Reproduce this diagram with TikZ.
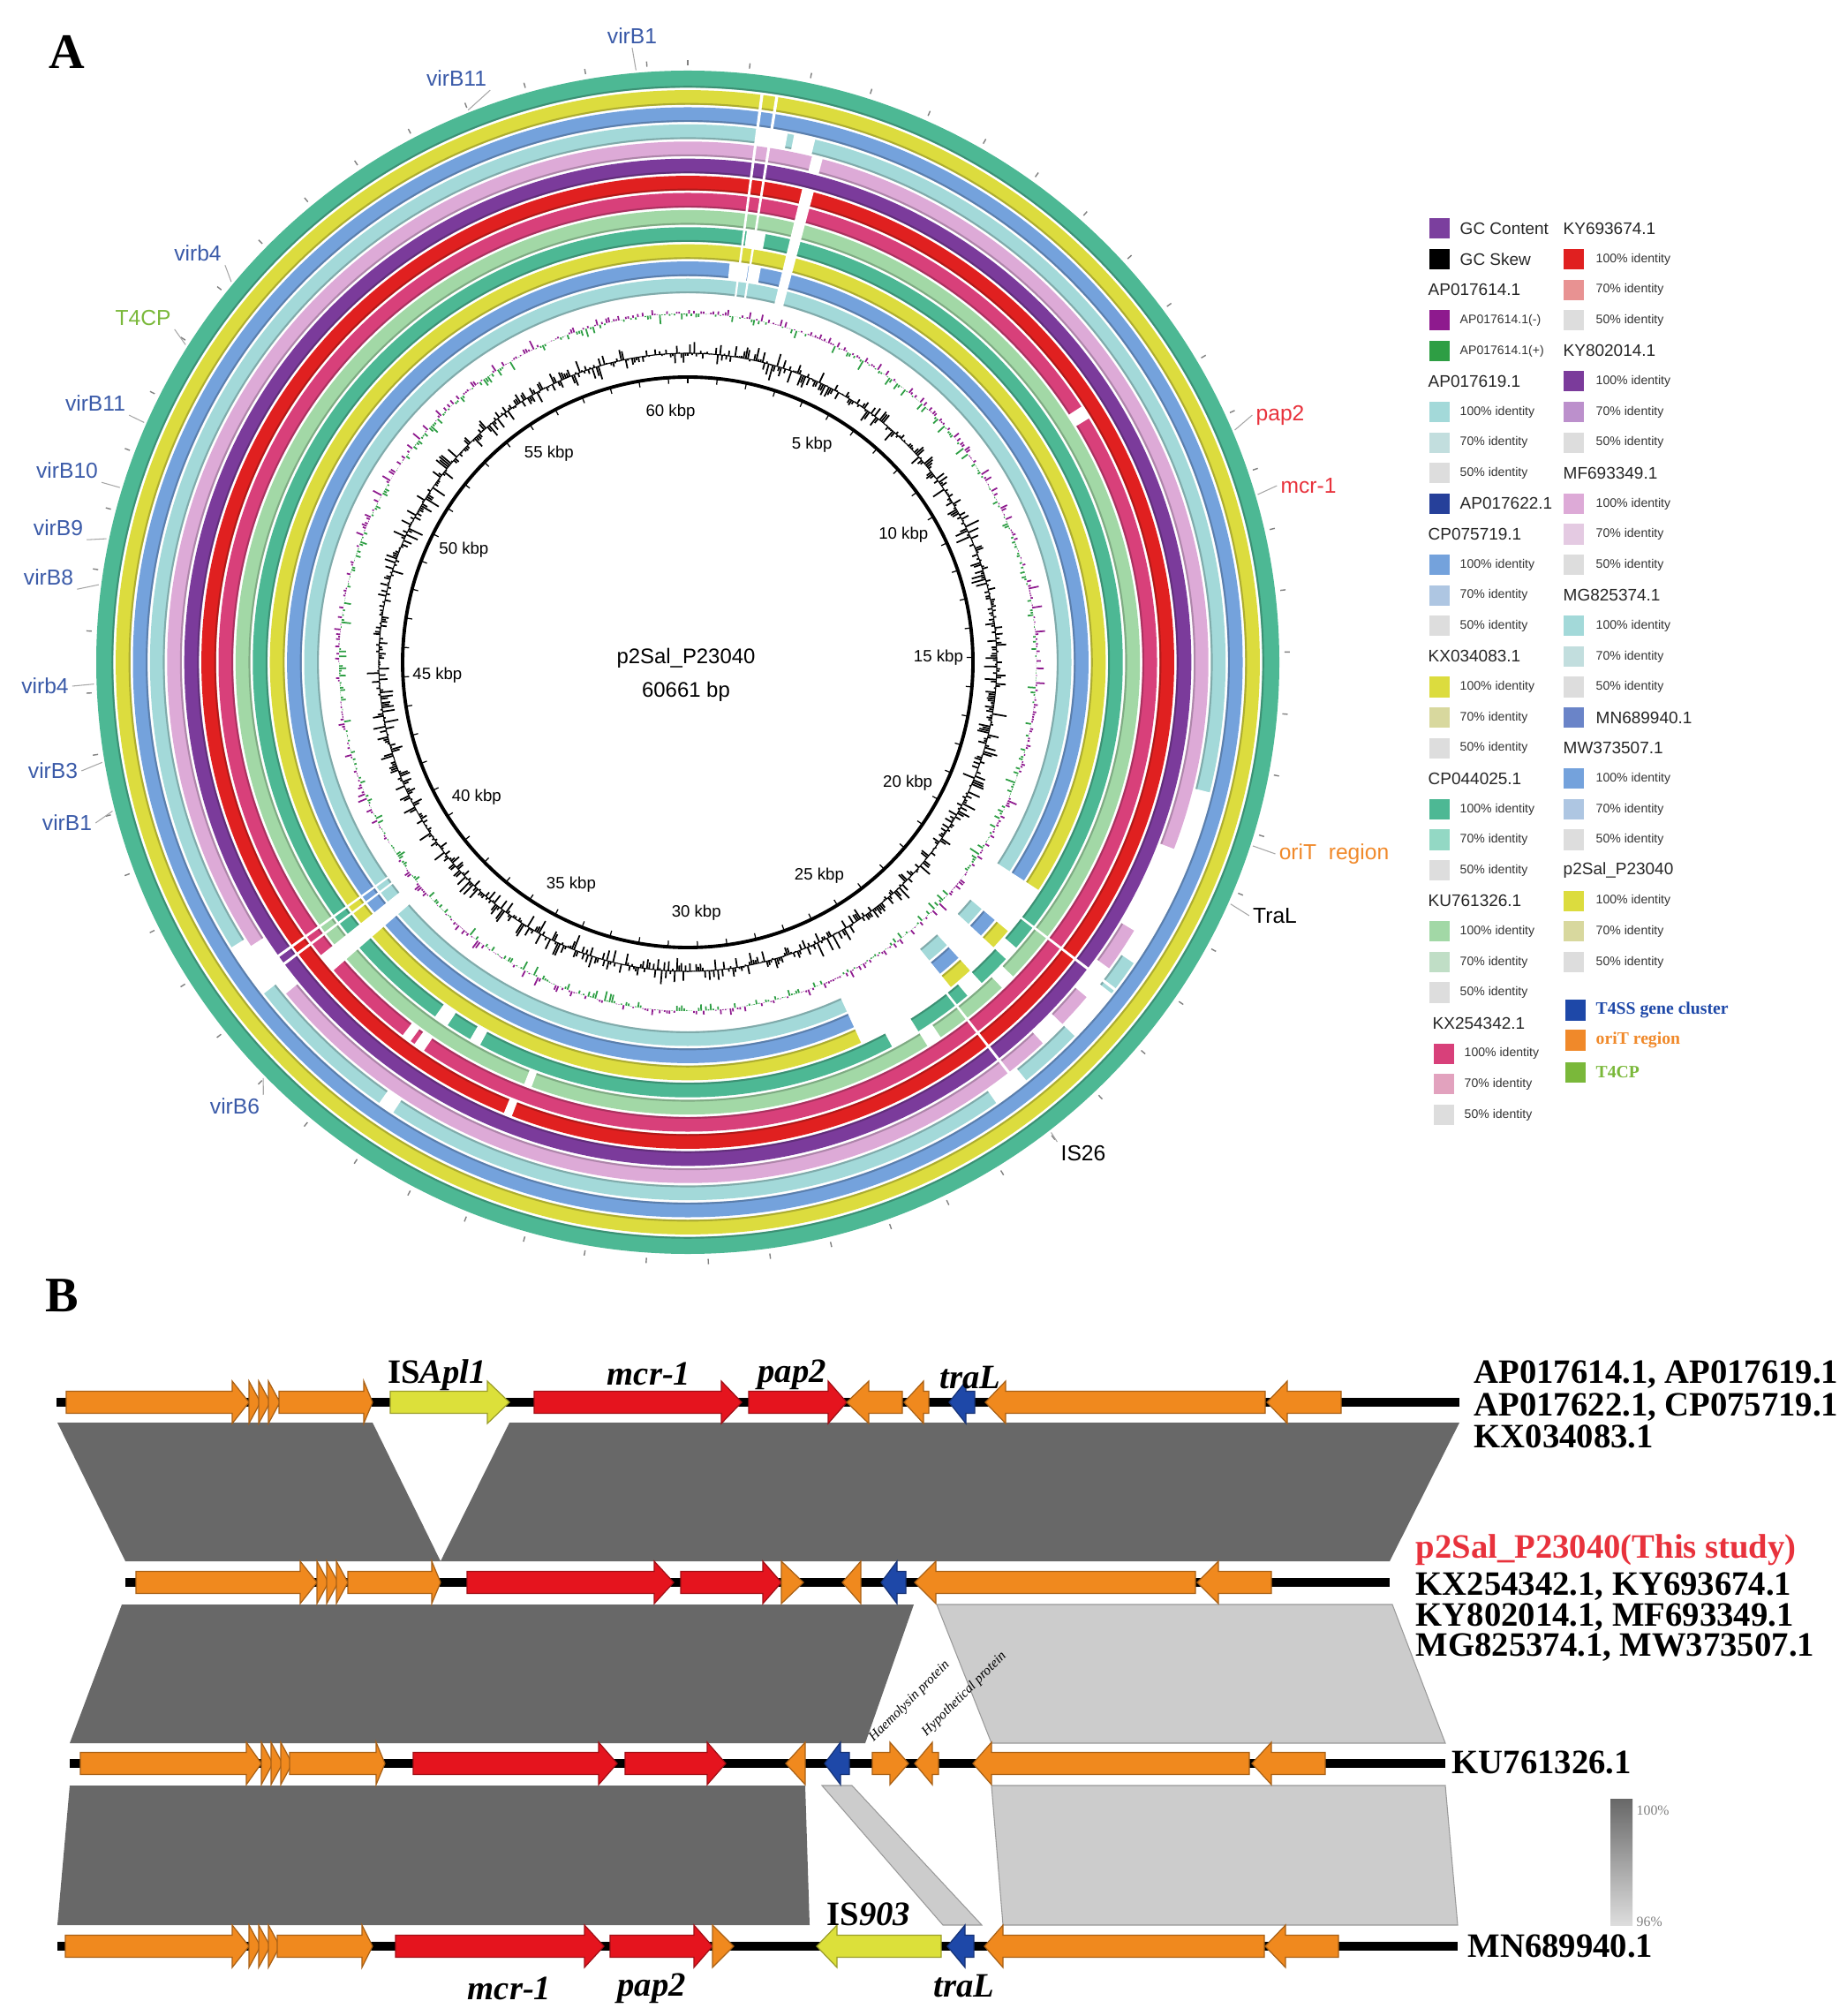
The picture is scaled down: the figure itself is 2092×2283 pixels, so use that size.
\documentclass[tikz,border=0pt]{standalone}
\usepackage{fontspec}
\setmainfont{Liberation Serif}
\setsansfont{Liberation Sans}
\usetikzlibrary{positioning,calc}

\definecolor{rcyan}{HTML}{A3D9D9}
\definecolor{rblue}{HTML}{74A2DC}
\definecolor{ryellow}{HTML}{DCDC3E}
\definecolor{rteal}{HTML}{4DB894}
\definecolor{rlgreen}{HTML}{A2D8A6}
\definecolor{rmagenta}{HTML}{D8407A}
\definecolor{rred}{HTML}{E02020}
\definecolor{rpurple}{HTML}{7B3B9B}
\definecolor{rpink}{HTML}{DDAAD7}
\definecolor{lcyan}{HTML}{C2DEDE}
\definecolor{lblue}{HTML}{AEC6E2}
\definecolor{lyellow}{HTML}{D8D89E}
\definecolor{lteal}{HTML}{93D8C4}
\definecolor{llgreen}{HTML}{C0DEC6}
\definecolor{lmagenta}{HTML}{E2A2BE}
\definecolor{lred}{HTML}{E89292}
\definecolor{lpurple}{HTML}{BC90CC}
\definecolor{lpink}{HTML}{E4CAE2}
\definecolor{lgrey}{HTML}{DDDDDD}
\definecolor{gcpurple}{HTML}{7B3F9E}
\definecolor{gcminus}{HTML}{8E1A8E}
\definecolor{gcplus}{HTML}{2E9E44}
\definecolor{apblue}{HTML}{26409A}
\definecolor{mnblue}{HTML}{6A84C8}
\definecolor{labblue}{HTML}{3A5AA8}
\definecolor{labgreen}{HTML}{7AB83A}
\definecolor{labred}{HTML}{E8323C}
\definecolor{laborange}{HTML}{F0892A}
\definecolor{genorange}{HTML}{F0891E}
\definecolor{genred}{HTML}{E5141E}
\definecolor{genyellow}{HTML}{DCE03A}
\definecolor{genblue}{HTML}{1E48A8}
\definecolor{simdark}{HTML}{686868}
\definecolor{simlight}{HTML}{CCCCCC}

\newcommand{\rgaps}[4]{%
  \pgfmathsetmacro\gapin{416.5+19.4*#1}%
  \pgfmathsetmacro\gapout{436.5+19.4*#2}%
  \fill[white] (#3:\gapin) arc[start angle=#3, end angle=#4, radius=\gapin]
    -- (#4:\gapout) arc[start angle=#4, end angle=#3, radius=\gapout] -- cycle;}
\newcommand{\rgap}[3]{\rgaps{#1}{#1}{#2}{#3}}

\newcommand{\geneR}[5]{%
  \filldraw[gene, fill=#5, draw=#5!70!black] ({#1},{#4+12.5}) -- ({#2},{#4+12.5}) -- ({#2},{#4+24})
    -- ({#3},{#4}) -- ({#2},{#4-24}) -- ({#2},{#4-12.5}) -- ({#1},{#4-12.5}) -- cycle;}
\newcommand{\geneL}[5]{%
  \filldraw[gene, fill=#5, draw=#5!70!black] ({#1},{#4}) -- ({#2},{#4+24}) -- ({#2},{#4+12.5})
    -- ({#3},{#4+12.5}) -- ({#3},{#4-12.5}) -- ({#2},{#4-12.5}) -- ({#2},{#4-24}) -- cycle;}
\newcommand{\trio}[2]{%
  \foreach \tri in {0,1,2}{\pgfmathsetmacro\trx{#1+11*\tri}\geneR{\trx}{\trx}{\trx+13}{#2}{genorange}}}

\begin{document}
\begin{tikzpicture}[x=0.01cm,y=0.01cm,
  ringlab/.style={font=\sffamily\fontsize{7}{8}\selectfont, text=labblue, inner sep=1pt},
  leader/.style={draw=gray!70, line width=0.3pt},
  kbp/.style={font=\sffamily\fontsize{5.3}{6}\selectfont},
  skewbar/.style={line width=0.5pt, black},
  lgsq/.style={minimum size=0.23cm, inner sep=0pt, fill=#1},
  lgsmall/.style={font=\sffamily\fontsize{4}{5}\selectfont, text=black!80, anchor=west, inner sep=0pt},
  lghead/.style={font=\sffamily\fontsize{5.4}{6}\selectfont, text=black!85, anchor=west, inner sep=0pt},
  lgbold/.style={font=\bfseries\fontsize{5.6}{6}\selectfont, anchor=west, inner sep=0pt},
  gene/.style={line width=0.35pt, line join=miter},
  backbone/.style={line width=2.8pt},
  seqlab/.style={font=\bfseries\fontsize{11}{12}\selectfont, anchor=base west, inner sep=0pt},
  genelab/.style={font=\bfseries\itshape\fontsize{11}{12}\selectfont, inner sep=0pt},
  protlab/.style={font=\itshape\fontsize{4.4}{5}\selectfont, rotate=45, anchor=south west, inner sep=0pt},
  panel/.style={font=\bfseries\fontsize{16}{18}\selectfont, inner sep=0pt}]
\useasboundingbox (0,0) rectangle (2092,-2283);

\node[panel] (pA) at (76,-59) {A};
\node[panel] (pB) at (70,-1467) {B};

\begin{scope}[shift={(779,-750)}]
  \foreach \i/\col in {0/rcyan,1/rblue,2/ryellow,3/rteal,4/rlgreen,5/rmagenta,6/rred,
                       7/rpurple,8/rpink,9/rcyan,10/rblue,11/ryellow,12/rteal}{
    \pgfmathsetmacro\rin{418+19.4*\i}
    \pgfmathsetmacro\rout{\i==12 ? 670 : 418+19.4*\i+16.5}
    \fill[\col, even odd rule] (0,0) circle[radius=\rout] circle[radius=\rin];
    \draw[\col!65!black, line width=0.6pt, opacity=0.6] (0,0) circle[radius=\rin+0.9];
  }
  % gaps of the blast rings
  \rgaps{0}{6}{75}{76.4}
  \rgaps{0}{11}{80.9}{81.2}
  \rgaps{0}{11}{82.4}{82.7}
  \rgap{9}{79.3}{82.6}
  \rgap{9}{76.3}{78.6}
  \rgap{8}{75}{76.2}
  \rgap{3}{79.7}{82.2}
  \rgap{1}{79.5}{81}
  \rgap{1}{81.3}{84}
  \rgaps{0}{5}{218.6}{221}
  \rgaps{0}{9}{215.5}{215.8}
  \rgaps{0}{9}{216.6}{216.9}
  \rgap{8}{213}{219.5}
  \rgap{9}{212}{218}
  \rgap{5}{232.6}{233.8}
  \rgap{5}{234.4}{235.8}
  \rgap{3}{234.5}{236.5}
  \rgap{3}{240}{241.5}
  \rgap{4}{248.8}{249.8}
  \rgap{6}{247.8}{248.8}
  \rgap{9}{235}{236.8}
  \rgaps{0}{2}{-65.5}{-51}
  \rgaps{0}{2}{-47.5}{-43}
  \rgaps{0}{2}{-40}{-33}
  \rgap{3}{-62}{-58}
  \rgap{3}{-50}{-47.5}
  \rgap{3}{-43}{-41}
  \rgap{4}{-58}{-56}
  \rgap{4}{-46}{-44}
  \rgap{8}{-47}{-44}
  \rgap{8}{-40}{-36}
  \rgap{8}{-31}{-21}
  \rgap{9}{-55}{-51}
  \rgap{9}{-44}{-38}
  \rgap{9}{-34}{-14}
  \rgaps{0}{9}{-37.6}{-37.3}
  \rgaps{0}{9}{-52.1}{-51.8}
  \rgap{5}{31.3}{33}

  \foreach \k in {0,...,60}{
    \pgfmathsetmacro\ang{90-\k*5.9346}
    \draw[gray, line width=0.4pt] (\ang:676) -- (\ang:682);
  }

  \pgfmathsetseed{11}
  \draw[line width=0.3pt] (0,0) circle[radius=350];
  \foreach \a in {0,0.4,...,359.8}{
    \pgfmathsetmacro\h{(rnd-0.5)*2*18*sqrt(rnd)}
    \pgfmathsetmacro\rr{350+\h}
    \draw[skewbar] (\a:350) -- (\a:\rr);
  }
  \foreach \a in {0.2,0.6,...,359.9}{
    \pgfmathsetmacro\h{(rnd-0.5)*2*12*rnd}
    \pgfmathsetmacro\rr{395+\h}
    \ifdim\h pt>0pt\relax
      \draw[gcminus, line width=0.5pt] (\a:395) -- (\a:\rr);
    \else
      \draw[gcplus, line width=0.5pt] (\a:395) -- (\a:\rr);
    \fi
  }

  \draw[line width=1.1pt] (0,0) circle[radius=323];
  \foreach \k in {0,...,60}{
    \pgfmathsetmacro\ang{90-\k*5.9346}
    \draw[line width=0.35pt] (\ang:323) -- (\ang:316);
  }
  \foreach \k in {5,10,...,60}{
    \pgfmathsetmacro\ang{90-\k*5.9346}
    \node[kbp] (kb\k) at (\ang:284) {\k\ kbp};
  }
  \node[font=\sffamily\fontsize{6.8}{8}\selectfont] (plasmid) at (-2,5) {p2Sal\_P23040};
  \node[font=\sffamily\fontsize{6.8}{8}\selectfont] (plen) at (-2,-33) {60661 bp};

  \foreach \n/\ang in {vbA/95, vbB/111.7, vbC/140.2, vbD/147.7, vbE/156.2, vbF/162.9, vbG/168,
                       vbH/172.5, vbI/182.1, vbJ/189.7, vbK/194.5, vbL/224.4,
                       rpap/23, rmcr/16.4, rori/-18, rtra/-24, ris/-52.3}
    \coordinate (\n-r) at (\ang:673);
\end{scope}

\foreach \n/\x/\y/\t in {vbA/716/41/virB1, vbB/517/89/virB11, vbC/224/287/virb4,
                         vbE/108/457/virB11, vbF/76/533/virB10, vbG/66/598/virB9,
                         vbH/55/654/virB8, vbI/51/777/virb4, vbJ/60/873/virB3,
                         vbK/76/932/virB1, vbL/266/1253/virB6}
  \node[ringlab] (\n) at (\x,-\y) {\t};
\node[ringlab, text=labgreen] (vbD) at (162,-360) {T4CP};
\node[ringlab, text=labred] (rpap) at (1450,-470) {pap2};
\node[ringlab, text=labred] (rmcr) at (1482,-550) {mcr-1};
\node[ringlab, text=laborange] (rori) at (1511,-967) {oriT~ region};
\node[ringlab, text=black] (rtra) at (1444,-1037) {TraL};
\node[ringlab, text=black] (ris) at (1227,-1306) {IS26};
\foreach \n/\an in {vbA/south, vbB/south east, vbC/south east, vbD/south east, vbE/south east,
                    vbF/south east, vbG/south east, vbH/south east, vbI/east, vbJ/east,
                    vbK/east, vbL/north east, rpap/west, rmcr/west, rori/west, rtra/west,
                    ris/north west}
  \draw[leader] (\n.\an) -- (\n-r);

\foreach \k/\col/\txt in {0/gcpurple/GC Content, 1/black/GC Skew, 9/apblue/AP017622.1}{
  \pgfmathsetmacro\yy{-259-34.6*\k}
  \node[lgsq=\col] (sqL\k) at (1630,\yy) {};
  \node[lghead] (txL\k) at (1653,\yy) {\txt};
}
\foreach \k/\dx/\txt in {2/0/AP017614.1, 5/0/AP017619.1, 10/0/CP075719.1, 14/0/KX034083.1,
                         18/0/CP044025.1, 22/0/KU761326.1, 26/5/KX254342.1}{
  \pgfmathsetmacro\yy{-259-34.6*\k}
  \node[lghead] (hdL\k) at (1617+\dx,\yy) {\txt};
}
\foreach \k/\dx/\col/\txt in {3/0/gcminus/AP017614.1(-), 4/0/gcplus/AP017614.1(+),
    6/0/rcyan/100\% identity, 7/0/lcyan/70\% identity, 8/0/lgrey/50\% identity,
    11/0/rblue/100\% identity, 12/0/lblue/70\% identity, 13/0/lgrey/50\% identity,
    15/0/ryellow/100\% identity, 16/0/lyellow/70\% identity, 17/0/lgrey/50\% identity,
    19/0/rteal/100\% identity, 20/0/lteal/70\% identity, 21/0/lgrey/50\% identity,
    23/0/rlgreen/100\% identity, 24/0/llgreen/70\% identity, 25/0/lgrey/50\% identity,
    27/5/rmagenta/100\% identity, 28/5/lmagenta/70\% identity, 29/5/lgrey/50\% identity}{
  \pgfmathsetmacro\yy{-259-34.6*\k}
  \node[lgsq=\col] (sqL\k) at (1630+\dx,\yy) {};
  \node[lgsmall] (txL\k) at (1653+\dx,\yy) {\txt};
}

\foreach \k/\txt in {0/KY693674.1, 4/KY802014.1, 8/MF693349.1, 12/MG825374.1,
                     17/MW373507.1, 21/p2Sal\_P23040}{
  \pgfmathsetmacro\yy{-259-34.6*\k}
  \node[lghead] (hdR\k) at (1770,\yy) {\txt};
}
\node[lgsq=mnblue] (sqR16) at (1782,{-259-34.6*16}) {};
\node[lghead] (txR16) at (1807,{-259-34.6*16}) {MN689940.1};
\foreach \k/\col/\txt in {1/rred/100\% identity, 2/lred/70\% identity, 3/lgrey/50\% identity,
    5/rpurple/100\% identity, 6/lpurple/70\% identity, 7/lgrey/50\% identity,
    9/rpink/100\% identity, 10/lpink/70\% identity, 11/lgrey/50\% identity,
    13/rcyan/100\% identity, 14/lcyan/70\% identity, 15/lgrey/50\% identity,
    18/rblue/100\% identity, 19/lblue/70\% identity, 20/lgrey/50\% identity,
    22/ryellow/100\% identity, 23/lyellow/70\% identity, 24/lgrey/50\% identity}{
  \pgfmathsetmacro\yy{-259-34.6*\k}
  \node[lgsq=\col] (sqR\k) at (1782,\yy) {};
  \node[lgsmall] (txR\k) at (1807,\yy) {\txt};
}
\foreach \n/\y/\col/\txt in {t4ss/1144/genblue/T4SS gene cluster, orit/1178/laborange/oriT region,
                             t4cp/1214/labgreen/T4CP}{
  \node[lgsq=\col] (sq-\n) at (1784,-\y) {};
  \node[lgbold, text=\col] (tx-\n) at (1807,-\y) {\txt};
}

\fill[simdark] (65,-1611) -- (422,-1611) -- (499,-1768) -- (142,-1768) -- cycle;
\fill[simdark] (577,-1611) -- (1653,-1611) -- (1574,-1768) -- (499,-1768) -- cycle;
\fill[simdark] (138,-1817) -- (1035,-1817) -- (980,-1974) -- (79,-1974) -- cycle;
\filldraw[simlight, draw=gray!80, line width=0.3pt] (1061,-1817) -- (1577,-1817) -- (1637,-1974) -- (1123,-1974) -- cycle;
\fill[simdark] (79,-2022) -- (912,-2022) -- (917,-2180) -- (65,-2180) -- cycle;
\filldraw[simlight, draw=gray!80, line width=0.3pt] (931,-2022) -- (965,-2022) -- (1112,-2180) -- (1068,-2180) -- cycle;
\filldraw[simlight, draw=gray!80, line width=0.3pt] (1123,-2022) -- (1637,-2022) -- (1651,-2180) -- (1136,-2180) -- cycle;

\draw[backbone] (64,-1588) -- (1653,-1588);
\geneR{75}{263}{282}{-1588}{genorange}
\trio{282}{-1588}
\geneR{316}{412}{422}{-1588}{genorange}
\geneR{442}{552}{577}{-1588}{genyellow}
\geneR{605}{817}{840}{-1588}{genred}
\geneR{848}{938}{959}{-1588}{genred}
\geneL{959}{984}{1022}{-1588}{genorange}
\geneL{1024}{1046}{1052}{-1588}{genorange}
\geneL{1075}{1094}{1104}{-1588}{genblue}
\geneL{1116}{1139}{1433}{-1588}{genorange}
\geneL{1435}{1458}{1519}{-1588}{genorange}

\draw[backbone] (142,-1792) -- (1574,-1792);
\geneR{154}{340}{359}{-1792}{genorange}
\trio{359}{-1792}
\geneR{394}{489}{499}{-1792}{genorange}
\geneR{529}{741}{763}{-1792}{genred}
\geneR{771}{864}{885}{-1792}{genred}
\geneR{885}{885}{910}{-1792}{genorange}
\geneL{954}{975}{975}{-1792}{genorange}
\geneL{998}{1016}{1026}{-1792}{genblue}
\geneL{1036}{1060}{1354}{-1792}{genorange}
\geneL{1356}{1380}{1440}{-1792}{genorange}

\draw[backbone] (79,-1997) -- (1637,-1997);
\geneR{91}{279}{296}{-1997}{genorange}
\trio{296}{-1997}
\geneR{328}{426}{436}{-1997}{genorange}
\geneR{468}{678}{699}{-1997}{genred}
\geneR{708}{801}{822}{-1997}{genred}
\geneL{890}{912}{912}{-1997}{genorange}
\geneL{934}{952}{962}{-1997}{genblue}
\geneR{988}{1008}{1029}{-1997}{genorange}
\geneL{1036}{1056}{1063}{-1997}{genorange}
\geneL{1102}{1123}{1415}{-1997}{genorange}
\geneL{1418}{1440}{1501}{-1997}{genorange}

\draw[backbone] (65,-2204) -- (1651,-2204);
\geneR{74}{263}{282}{-2204}{genorange}
\trio{282}{-2204}
\geneR{314}{410}{422}{-2204}{genorange}
\geneR{448}{662}{684}{-2204}{genred}
\geneR{691}{786}{807}{-2204}{genred}
\geneR{807}{807}{831}{-2204}{genorange}
\geneL{925}{948}{1066}{-2204}{genyellow}
\geneL{1073}{1093}{1103}{-2204}{genblue}
\geneL{1115}{1136}{1432}{-2204}{genorange}
\geneL{1433}{1456}{1516}{-2204}{genorange}

\node[genelab] (isapl) at (495,-1557) {\upshape IS\itshape Apl1};
\node[genelab] (mcrA) at (735,-1556) {mcr-1};
\node[genelab] (papA) at (897,-1557) {pap2};
\node[genelab] (traA) at (1099,-1560) {traL};
\node[genelab] (is903) at (984,-2168) {\upshape IS\itshape 903};
\node[genelab] (mcrB) at (577,-2252) {mcr-1};
\node[genelab] (papB) at (738,-2252) {pap2};
\node[genelab] (traB) at (1092,-2249) {traL};
\node[protlab] (haem) at (992,-1976) {Haemolysin protein};
\node[protlab] (hypo) at (1052,-1970) {Hypothetical protein};

\node[seqlab] (s1a) at (1669,-1566) {AP017614.1, AP017619.1};
\node[seqlab] (s1b) at (1669,-1603) {AP017622.1, CP075719.1};
\node[seqlab] (s1c) at (1669,-1639) {KX034083.1};
\node[seqlab, text=labred] (s2a) at (1603,-1764) {p2Sal\_P23040(This study)};
\node[seqlab] (s2b) at (1603,-1806) {KX254342.1, KY693674.1};
\node[seqlab] (s2c) at (1603,-1841) {KY802014.1, MF693349.1};
\node[seqlab] (s2d) at (1603,-1875) {MG825374.1, MW373507.1};
\node[seqlab] (s3) at (1644,-2008) {KU761326.1};
\node[seqlab] (s4) at (1662,-2216) {MN689940.1};

\shade[top color=simdark, bottom color=lgrey] (1824,-2037) rectangle (1849,-2180);
\node[font=\fontsize{4.5}{5}\selectfont, text=gray, anchor=west, inner sep=0pt] (pc100) at (1853,-2050) {100\%};
\node[font=\fontsize{4.5}{5}\selectfont, text=gray, anchor=west, inner sep=0pt] (pc96) at (1853,-2176) {96\%};
\end{tikzpicture}
\end{document}
